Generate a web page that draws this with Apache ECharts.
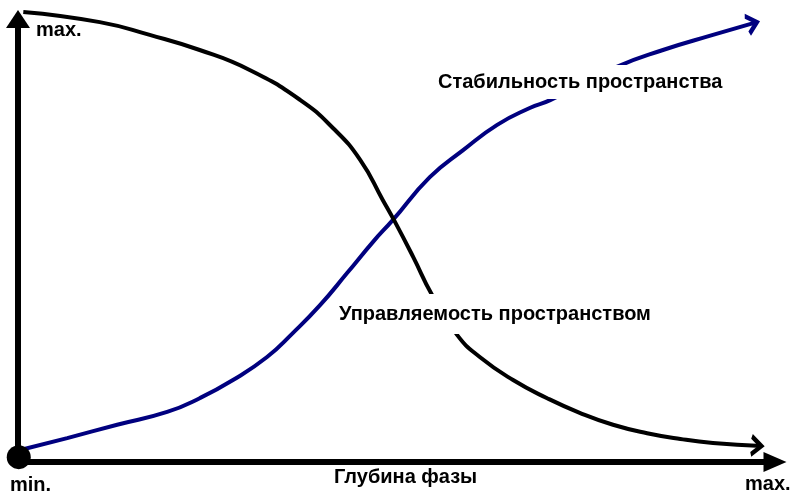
<!DOCTYPE html>
<html>
<head>
<meta charset="utf-8">
<script src="https://cdn.jsdelivr.net/npm/echarts@6/dist/echarts.min.js"></script>
<style>
  html, body { margin: 0; padding: 0; background: #fff; }
  #chart { width: 800px; height: 500px; }
</style>
</head>
<body>
<div id="chart"></div>
<script>
// Phase depth (x, 0 = min .. 100 = max) and level (y, 0 = min .. 100 = max)
const controlX = [0.7, 10.8, 17.4, 24.0, 30.6, 37.3, 41.6, 45.2, 48.2, 49.8, 52.2, 54.7, 58.0, 61.0, 65.4, 69.9, 74.2, 78.6, 83.1, 87.5, 91.8, 98.2];
const controlY = [101.6, 99.3, 96.4, 93.0, 88.5, 81.7, 75.4, 68.2, 59.1, 54.2, 46.3, 37.7, 28.7, 23.7, 18.5, 14.4, 11.1, 8.4, 6.5, 5.2, 4.3, 3.6];

const stabilityX = [0.3, 6.5, 13.1, 19.7, 24.0, 28.4, 32.9, 36.3, 39.9, 43.5, 46.9, 49.5, 54.4, 58.8, 63.3, 67.6, 70.3, 79.1, 85.2, 91.8, 97.6];
const stabilityY = [2.7, 5.4, 8.4, 11.3, 14.4, 18.5, 23.7, 29.1, 35.4, 42.7, 49.7, 54.6, 64.3, 70.4, 76.1, 79.9, 81.7, 89.2, 93.0, 96.4, 99.3];

const origin = [0.1, 1.1];

const xAxisName = 'Глубина фазы';
const minLabel = 'min.';
const maxLabel = 'max.';
const stabilityName = 'Стабильность пространства';
const controlName = 'Управляемость пространством';

const FONT = 'bold 20px "Liberation Sans", Arial, sans-serif';
const NAVY = '#00007f';

function buildData(xs, ys, color, rotate, offset) {
  const d = xs.map((x, i) => [x, ys[i]]);
  const last = d.length - 1;
  d[last] = {
    value: d[last],
    symbol: 'path://M0,0L10,9L0,18',
    symbolSize: [10, 18],
    symbolRotate: rotate,
    symbolOffset: offset,
    itemStyle: { color: 'rgba(0,0,0,0)', borderColor: color, borderWidth: 4, opacity: 1 }
  };
  return d;
}

const chart = echarts.init(document.getElementById('chart'), null, { renderer: 'canvas' });

const axisCommon = {
  type: 'value',
  min: 0,
  max: 100,
  axisTick: { show: false },
  axisLabel: { show: false },
  splitLine: { show: false }
};

chart.setOption({
  animation: false,
  backgroundColor: '#fff',
  grid: { left: 18, right: 25, top: 19, bottom: 38, outerBoundsMode: 'none' },
  xAxis: Object.assign({}, axisCommon, {
    axisLine: { show: true, onZero: false, symbol: ['none', 'triangle'], symbolSize: [20, 23],
      lineStyle: { color: '#000', width: 6 } }
  }),
  yAxis: Object.assign({}, axisCommon, {
    axisLine: { show: true, onZero: false, symbol: ['none', 'triangle'], symbolSize: [24, 18],
      lineStyle: { color: '#000', width: 6 } }
  }),
  series: [
    {
      name: stabilityName,
      type: 'line',
      smooth: 0.5,
      clip: false,
      symbol: 'none',
      showSymbol: true,
      lineStyle: { color: NAVY, width: 4 },
      itemStyle: { color: NAVY },
      data: buildData(stabilityX, stabilityY, NAVY, 16, [-4.8, 1.4]),
      z: 2
    },
    {
      name: controlName,
      type: 'line',
      smooth: 0.5,
      clip: false,
      symbol: 'none',
      showSymbol: true,
      lineStyle: { color: '#000', width: 4 },
      itemStyle: { color: '#000' },
      data: buildData(controlX, controlY, '#000', -4, [-5, -0.3]),
      z: 3
    },
    {
      type: 'scatter',
      symbol: 'circle',
      symbolSize: 24,
      itemStyle: { color: '#000', opacity: 1 },
      data: [origin],
      z: 4
    }
  ],
  graphic: [
    { type: 'text', x: 36, y: 30, z: 100, style: { text: maxLabel, font: FONT, fill: '#000', align: 'left', verticalAlign: 'middle' } },
    { type: 'text', x: 10, y: 485, z: 100, style: { text: minLabel, font: FONT, fill: '#000', align: 'left', verticalAlign: 'middle' } },
    { type: 'text', x: 745, y: 484, z: 100, style: { text: maxLabel, font: FONT, fill: '#000', align: 'left', verticalAlign: 'middle' } },
    { type: 'text', x: 334, y: 477, z: 100, style: { text: xAxisName, font: FONT, fill: '#000', align: 'left', verticalAlign: 'middle' } },
    { type: 'text', x: 436, y: 82, z: 100, style: { text: stabilityName, font: FONT, fill: '#000', align: 'left', verticalAlign: 'middle',
      backgroundColor: '#fff', padding: [7, 2], lineHeight: 20 } },
    { type: 'text', x: 337, y: 314, z: 100, style: { text: controlName, font: FONT, fill: '#000', align: 'left', verticalAlign: 'middle',
      backgroundColor: '#fff', padding: [10, 2], lineHeight: 20 } }
  ]
});
</script>
</body>
</html>
